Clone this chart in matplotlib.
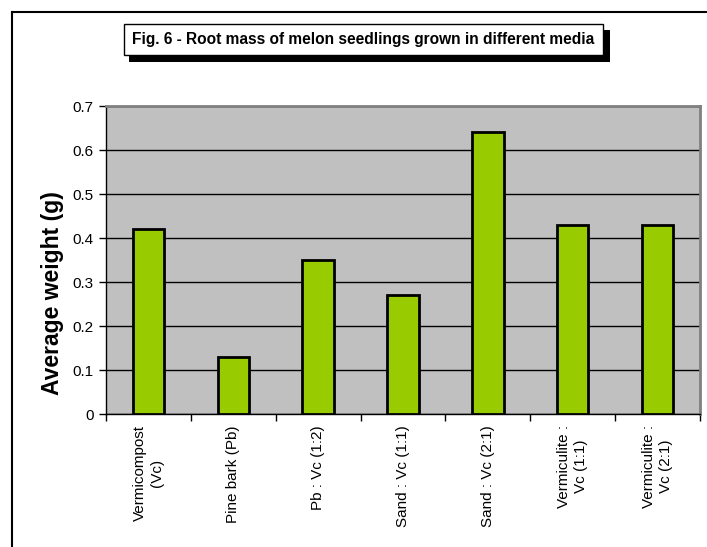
import matplotlib
matplotlib.use("Agg")
import matplotlib.pyplot as plt
from matplotlib.patches import Rectangle
from matplotlib.lines import Line2D

categories = ["Vermicompost\n(Vc)", "Pine bark (Pb)", "Pb : Vc (1:2)", "Sand : Vc (1:1)",
              "Sand : Vc (2:1)", "Vermiculite :\nVc (1:1)", "Vermiculite :\nVc (2:1)"]
weights = [0.42, 0.13, 0.35, 0.27, 0.64, 0.43, 0.43]
y_ticks = [0, 0.1, 0.2, 0.3, 0.4, 0.5, 0.6, 0.7]
y_tick_labels = ["0", "0.1", "0.2", "0.3", "0.4", "0.5", "0.6", "0.7"]

plt.rcParams["font.family"] = ["Liberation Sans", "DejaVu Sans"]

W, H = 707, 547
fig = plt.figure(figsize=(W / 100, H / 100), dpi=100)

# outer frame lines (left and top)
fig.add_artist(Line2D([12 / W, 12 / W], [0, 1 - 12 / H], transform=fig.transFigure,
                      color="black", lw=1.5))
fig.add_artist(Line2D([12 / W, 1], [1 - 12 / H, 1 - 12 / H], transform=fig.transFigure,
                      color="black", lw=1.5))

ax = fig.add_axes([106 / W, 1 - 414 / H, (700 - 106) / W, (414 - 106) / H])
ax.set_facecolor("#C0C0C0")

x = list(range(len(categories)))
ax.bar(x, weights, width=0.37, color="#99CC00", edgecolor="black", linewidth=2, zorder=3)

ax.set_xlim(-0.5, len(categories) - 0.5)
ax.set_ylim(0, 0.7)
ax.set_yticks(y_ticks)
ax.set_yticklabels(y_tick_labels, fontsize=11)
ax.yaxis.grid(True, color="black", linewidth=1, zorder=1)
ax.set_axisbelow(True)

ax.set_xticks(x)
ax.set_xticklabels(categories, rotation=90, fontsize=11, ha="center", va="top",
                   multialignment="center", linespacing=1.3)
ax.tick_params(axis="x", which="major", length=0, pad=8)
ax.set_xticks([i - 0.5 for i in range(len(categories) + 1)], minor=True)
ax.tick_params(axis="x", which="minor", length=5, width=1, direction="out")
ax.tick_params(axis="y", length=5, width=1, direction="out", pad=4)

for side in ("top", "right"):
    ax.spines[side].set_color("#808080")
    ax.spines[side].set_linewidth(2)
for side in ("left", "bottom"):
    ax.spines[side].set_color("black")
    ax.spines[side].set_linewidth(1)

# y-axis title
fig.text(53 / W, 1 - 293 / H, "Average weight (g)", rotation=90, ha="center", va="center",
         fontsize=16.5, fontweight="bold")

# title box with drop shadow
fig.add_artist(Rectangle((129 / W, 1 - 62 / H), (610 - 129) / W, (62 - 30) / H,
                         transform=fig.transFigure, facecolor="black", edgecolor="none"))
fig.add_artist(Rectangle((124 / W, 1 - 55 / H), (603 - 124) / W, (55 - 24) / H,
                         transform=fig.transFigure, facecolor="white", edgecolor="black",
                         linewidth=1))
fig.text((124 + 603) / 2 / W, 1 - 39.5 / H,
         "Fig. 6 - Root mass of melon seedlings grown in different media",
         ha="center", va="center", fontsize=11.2, fontweight="bold")

fig.savefig("out.png", dpi=100)
